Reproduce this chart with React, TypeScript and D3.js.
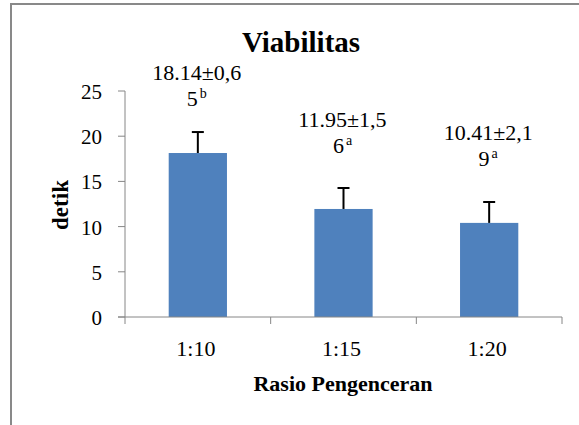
import * as d3 from 'd3';

const categories = ['1:10', '1:15', '1:20'];
const means = [18.14, 11.95, 10.41];
const errors = [2.32, 2.32, 2.31];
const labelLine1 = ['18.14±0,6', '11.95±1,5', '10.41±2,1'];
const labelLine2 = ['5', '6', '9'];
const labelSup = ['b', 'a', 'a'];
const yTicks = [0, 5, 10, 15, 20, 25];

const FONT = "'Liberation Serif', serif";

const W = 579;
const H = 425;

// measure with a canvas so every label can be laid out with a start anchor
const ctx = document.createElement('canvas').getContext('2d') as CanvasRenderingContext2D;
const measure = (s: string, size: number, bold?: boolean) => {
	ctx.font = `${bold ? 'bold ' : ''}${size}px ${FONT}`;
	return ctx.measureText(s).width;
};

type TxtProps = {
	x: number;
	y: number;
	size: number;
	bold?: boolean;
	width?: number;
	children: any;
};

// x is the centre of the text
const Txt = ({ x, y, size, bold, width, children }: TxtProps) => {
	const w = width ?? measure(String(children), size, bold);
	return (
		<text x={x - w / 2} y={y} fill="#000" style={{ fontFamily: FONT, fontSize: size, fontWeight: bold ? 700 : 400 }}>
			{children}
		</text>
	);
};

export default function App() {
	const x = d3.scaleBand<string>().domain(categories).range([125, 562]).paddingInner(0.6).paddingOuter(0.3);
	const y = d3.scaleLinear().domain([0, 25]).range([317, 91]);

	const [x0, x1] = x.range();
	const step = (x1 - x0) / categories.length;
	const boundaries = d3.range(categories.length + 1).map((i) => x0 + i * step);
	const axisColor = '#868686';

	// distance (px) between error-bar top and the second label line
	const labelGap = [26, 35, 36];

	return (
		<svg width={W} height={H} style={{ position: 'absolute', left: 0, top: 0, background: '#fff' }}>
			<rect x={11} y={4} width={W + 10} height={H + 10} fill="#fff" stroke="#898989" strokeWidth={2} />

			<Txt x={301} y={52} size={29} bold>
				Viabilitas
			</Txt>

			{/* y axis */}
			<line x1={x0} x2={x0} y1={y(25)} y2={y(0)} stroke={axisColor} strokeWidth={1} />
			{yTicks.map((t) => (
				<g key={t}>
					<line x1={x0 - 7} x2={x0} y1={y(t)} y2={y(t)} stroke={axisColor} />
					<text x={102} y={y(t) + 8} textAnchor="end" fill="#000" style={{ fontFamily: FONT, fontSize: 21 }}>
						{t}
					</text>
				</g>
			))}

			{/* bars */}
			{categories.map((c, i) => (
				<rect key={c} x={x(c)} y={y(means[i])} width={x.bandwidth()} height={y(0) - y(means[i])} fill="#4f81bd" />
			))}

			{/* x axis */}
			<line x1={x0 - 7} x2={x1} y1={y(0)} y2={y(0)} stroke={axisColor} />
			{boundaries.map((b, i) => (
				<line key={i} x1={b} x2={b} y1={y(0)} y2={y(0) + 7} stroke={axisColor} />
			))}

			{/* error bars */}
			{categories.map((c, i) => {
				const cx = (x(c) as number) + x.bandwidth() / 2;
				const top = y(means[i] + errors[i]);
				return (
					<g key={c} stroke="#000" strokeWidth={2}>
						<line x1={cx} x2={cx} y1={y(means[i])} y2={top} />
						<line x1={cx - 6} x2={cx + 6} y1={top} y2={top} />
					</g>
				);
			})}

			{/* value labels */}
			{categories.map((c, i) => {
				const cx = (x(c) as number) + x.bandwidth() / 2;
				const base = y(means[i] + errors[i]) - labelGap[i];
				const w2 = measure(labelLine2[i], 22) + 2 + measure(labelSup[i], 14);
				return (
					<g key={c}>
						<Txt x={cx - 1} y={base - 26} size={22}>
							{labelLine1[i]}
						</Txt>
						<text x={cx - 1 - w2 / 2} y={base} fill="#000" style={{ fontFamily: FONT, fontSize: 22 }}>
							{labelLine2[i]}
							<tspan style={{ fontSize: 14 }} dy={-8} dx={2}>
								{labelSup[i]}
							</tspan>
						</text>
					</g>
				);
			})}

			{/* category labels */}
			{categories.map((c) => (
				<Txt key={c} x={(x(c) as number) + x.bandwidth() / 2 - 2} y={356} size={22}>
					{c}
				</Txt>
			))}

			<Txt x={343} y={391} size={22} bold>
				Rasio Pengenceran
			</Txt>

			<text
				transform="translate(68,205) rotate(-90)"
				textAnchor="middle"
				fill="#000"
				style={{ fontFamily: FONT, fontSize: 23, fontWeight: 700 }}
			>
				detik
			</text>
		</svg>
	);
}
